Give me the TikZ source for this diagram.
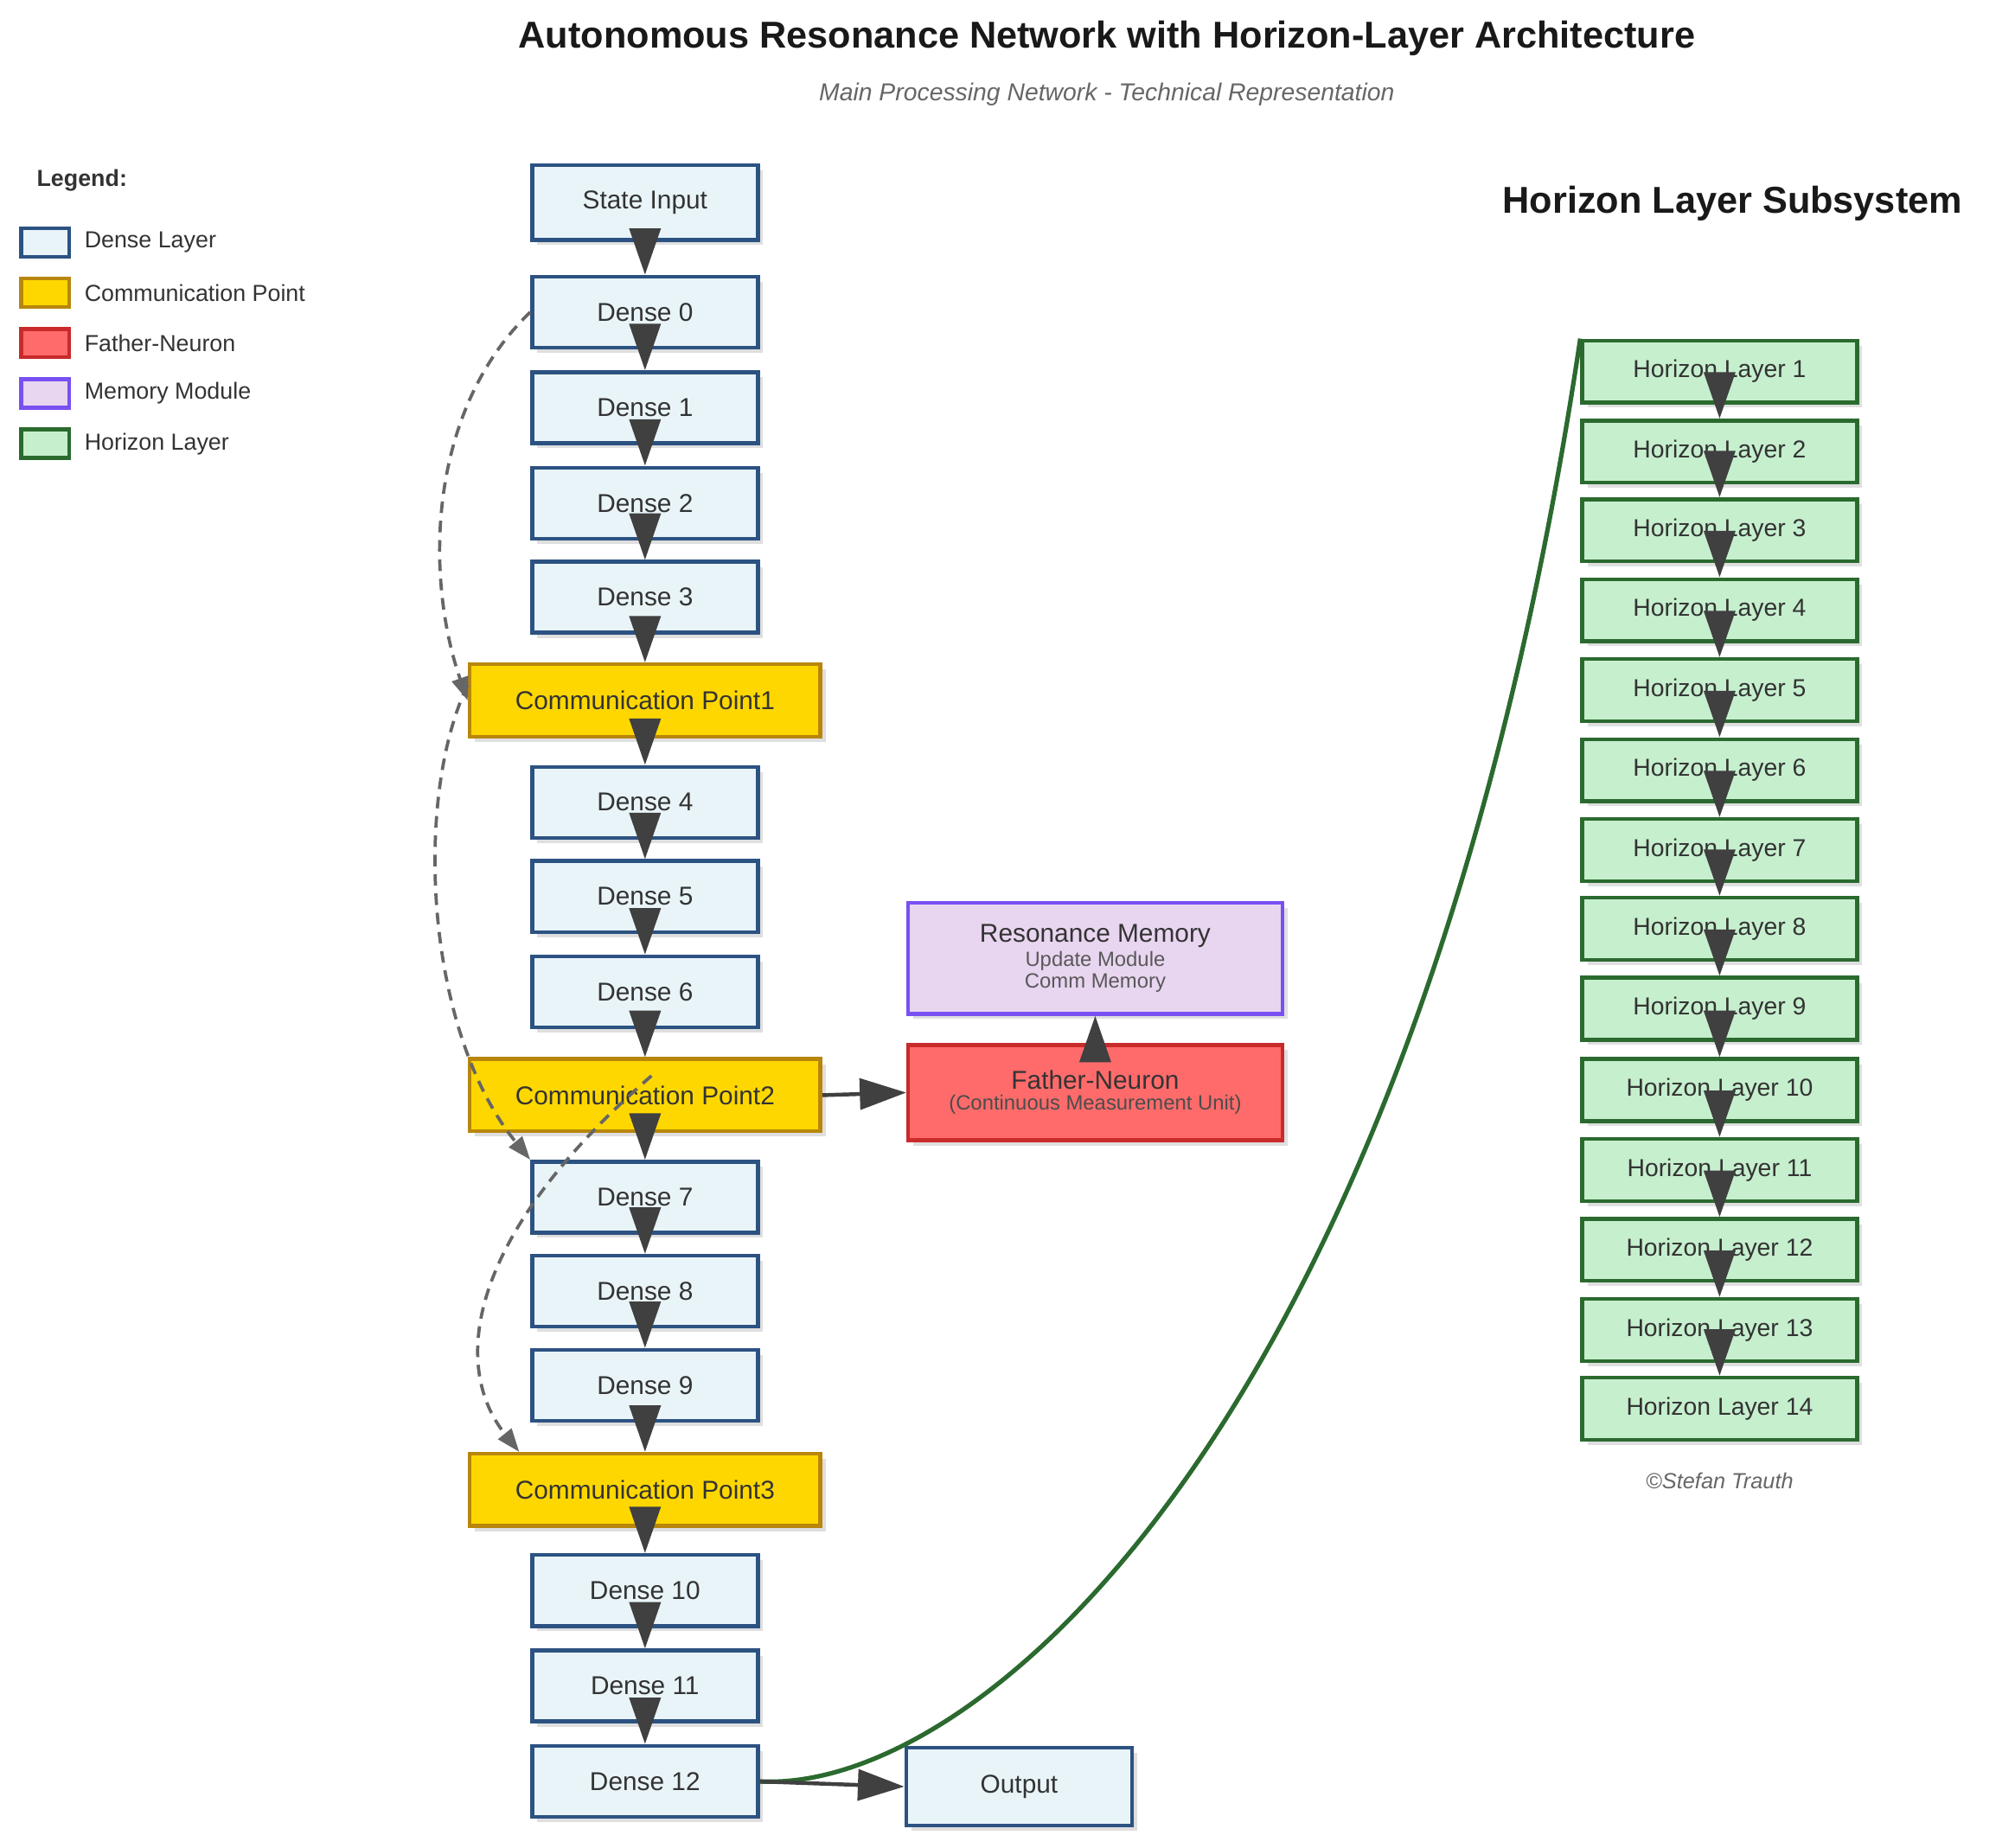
\documentclass[tikz,border=0pt]{standalone}
\usepackage{fontspec}
\setmainfont{Liberation Sans}
\usetikzlibrary{arrows.meta,shadows}
\definecolor{dfill}{HTML}{E8F4F8}\definecolor{ddraw}{HTML}{2C5282}
\definecolor{cfill}{HTML}{FFD700}\definecolor{cdraw}{HTML}{B8860B}
\definecolor{ffill}{HTML}{FF6B6B}\definecolor{fdraw}{HTML}{C92A2A}
\definecolor{mfill}{HTML}{E8D5F0}\definecolor{mdraw}{HTML}{7950F2}
\definecolor{hfill}{HTML}{C6EFCE}\definecolor{hdraw}{HTML}{2B6A2F}
\definecolor{ink}{HTML}{333333}\definecolor{arr}{HTML}{404040}
\newcommand{\fs}[1]{\fontsize{#1}{#1}\selectfont}
\tikzset{
 box/.style={draw,line width=3pt,text=ink,align=center,inner sep=0pt,
   drop shadow={opacity=0.25,shadow xshift=4pt,shadow yshift=-4pt}},
 dense/.style={box,fill=dfill,draw=ddraw,minimum width=175pt,minimum height=55pt,font=\fs{20}},
 comm/.style={box,fill=cfill,draw=cdraw,minimum width=272pt,minimum height=56pt,font=\fs{20}},
 hor/.style={box,fill=hfill,draw=hdraw,minimum width=213pt,minimum height=48pt,font=\fs{19}},
 leg/.style={draw,line width=3pt,minimum width=37pt,minimum height=22pt,inner sep=0pt},
 legt/.style={anchor=west,text=ink,font=\fs{18}},
 fl/.style={-{Triangle[length=36pt,width=24pt]},line width=3pt,draw=arr,fill=arr},
 dsh/.style={-{Triangle[length=18pt,width=13pt]},line width=2.5pt,draw=black!60,dash pattern=on 9pt off 6pt},
}
\begin{document}
\begin{tikzpicture}[x=1pt,y=-1pt]
\useasboundingbox (0,0) rectangle (1562,1432);
% titles
\node[font=\bfseries\fs{29},text=black!90] (title) at (858,30) {Autonomous Resonance Network with Horizon-Layer Architecture};
\node[font=\itshape\fs{19},text=black!60] (sub) at (858,73) {Main Processing Network - Technical Representation};
\node[font=\bfseries\fs{29},text=black!90] (hls) at (1343,158) {Horizon Layer Subsystem};
\node[font=\itshape\fs{17},text=black!60] (copy) at (1333,1148) {©Stefan Trauth};
% legend
\node[font=\bfseries\fs{18},text=ink,anchor=west] (lg) at (25,140) {Legend:};
\node[leg,fill=dfill,draw=ddraw] (l1) at (35,188) {}; \node[legt] (t1) at (62,188) {Dense Layer};
\node[leg,fill=cfill,draw=cdraw] (l2) at (35,227) {}; \node[legt] (t2) at (62,227) {Communication Point};
\node[leg,fill=ffill,draw=fdraw] (l3) at (35,266) {}; \node[legt] (t3) at (62,266) {Father-Neuron};
\node[leg,fill=mfill,draw=mdraw] (l4) at (35,305) {}; \node[legt] (t4) at (62,305) {Memory Module};
\node[leg,fill=hfill,draw=hdraw] (l5) at (35,344) {}; \node[legt] (t5) at (62,344) {Horizon Layer};
% main column
\node[dense,minimum height=58pt] (in) at (500,157) {State Input};
\node[dense] (d0) at (500,242) {Dense 0};
\node[dense] (d1) at (500,316) {Dense 1};
\node[dense] (d2) at (500,390) {Dense 2};
\node[dense] (d3) at (500,463) {Dense 3};
\node[comm] (c1) at (500,543) {Communication Point1};
\node[dense] (d4) at (500,622) {Dense 4};
\node[dense] (d5) at (500,695) {Dense 5};
\node[dense] (d6) at (500,769) {Dense 6};
\node[comm] (c2) at (500,849) {Communication Point2};
\node[dense] (d7) at (500,928) {Dense 7};
\node[dense] (d8) at (500,1001) {Dense 8};
\node[dense] (d9) at (500,1074) {Dense 9};
\node[comm] (c3) at (500,1155) {Communication Point3};
\node[dense] (d10) at (500,1233) {Dense 10};
\node[dense] (d11) at (500,1307) {Dense 11};
\node[dense] (d12) at (500,1381) {Dense 12};
\node[dense,minimum height=60pt] (out) at (790,1385) {Output};
\node[box,fill=mfill,draw=mdraw,minimum width=290pt,minimum height=86pt] (mem) at (849,743)
  {{\fs{20}Resonance Memory}\\[2pt]{\fs{16}\color{black!65}Update Module}\\[1pt]{\fs{16}\color{black!65}Comm Memory}};
\node[box,fill=ffill,draw=fdraw,minimum width=290pt,minimum height=74pt] (fn) at (849,847)
  {{\fs{20}Father-Neuron}\\[4pt]{\fs{16}\color{black!70}(Continuous Measurement Unit)}};
% horizon column
\foreach \i/\y in {1/288,2/350,3/411,4/473,5/535,6/597,7/659,8/720,9/782,10/845,11/907,12/969,13/1031,14/1092}
  \node[hor] (h\i) at (1333,\y) {Horizon Layer \i};
% dashed links
\draw[dsh] (d0.west) .. controls (330,320) and (330,450) .. (c1.west);
\draw[dsh] ([yshift=12pt]c1.west) .. controls (320,620) and (330,800) .. (d7.north west);
\draw[dsh] ([xshift=5pt,yshift=15pt]c2.center) .. controls (360,960) and (350,1060) .. ([xshift=40pt]c3.north west);
% green link
\draw[line width=3.5pt,draw=hdraw] (d12.east) .. controls (760,1390) and (1100,1100) .. (h1.north west);
% flow arrows
\foreach \a/\b in {in/d0,d0/d1,d1/d2,d2/d3,d3/c1,c1/d4,d4/d5,d5/d6,d6/c2,c2/d7,d7/d8,d8/d9,d9/c3,c3/d10,d10/d11,d11/d12}
  \draw[fl] ([yshift=10pt]\a.south) -- (\b.north);
\foreach \a/\b in {1/2,2/3,3/4,4/5,5/6,6/7,7/8,8/9,9/10,10/11,11/12,12/13,13/14}
  \draw[fl] ([yshift=10pt]h\a.south) -- (h\b.north);
\draw[fl] (c2.east) -- (fn.west);
\draw[fl] ([yshift=-8pt]fn.north) -- (mem.south);
\draw[fl] (d12.east) -- (out.west);
\end{tikzpicture}
\end{document}
